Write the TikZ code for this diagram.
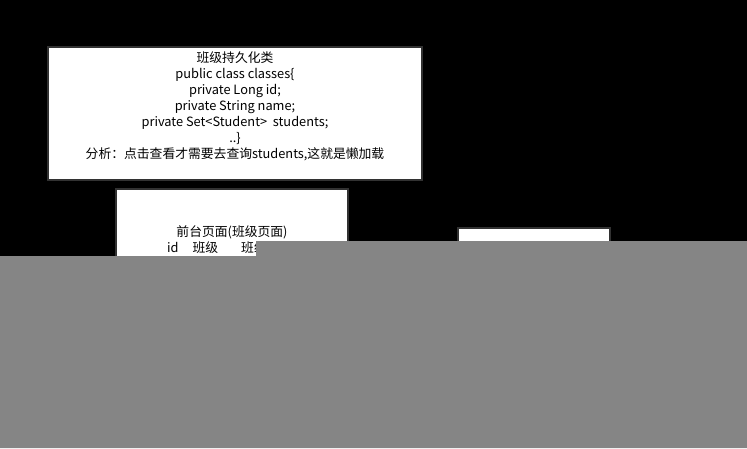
\documentclass[tikz,border=0pt]{standalone}
\usepackage{fontspec}
\setmainfont{Noto Sans CJK SC}
\usetikzlibrary{positioning}
\definecolor{boxline}{RGB}{50,50,50}
\definecolor{cover}{RGB}{133,133,133}
\tikzset{
  panel/.style={draw=boxline, line width=1.5pt, fill=white, inner sep=0pt},
  txt/.style={font=\fontsize{12.8}{16}\selectfont, align=center, inner sep=0pt}
}
\begin{document}
\begin{tikzpicture}[x=1pt,y=-1pt]
		\fill[black] (0,0) rectangle (747,448);
		\useasboundingbox (0,0) rectangle (747,448);
		
		\node[panel, minimum width=374pt, minimum height=133pt] (classbox) at (235,113.5) {};
		\node[txt] (classtext) at (235,106) {班级持久化类\\public class classes\{\\private Long id;\\private String name;\\private Set<Student>\ \ students;\\..\}\\分析：点击查看才需要去查询students,这就是懒加载};
		
		\node[panel, minimum width=232pt, minimum height=160pt] (pagebox) at (232,269) {};
		\node[txt] (pagetitle) at (232,232) {前台页面(班级页面)};
		\node[txt, anchor=west] (pagerow) at (167,248) {id\hspace{14pt}班级\hspace{23pt}班级人数};
		
		\node[panel, minimum width=152pt, minimum height=100pt] (studentbox) at (534,278) {};
		
		% cover
		\fill[cover] (256,241) -- (747,241) -- (747,448) -- (0,448) -- (0,256) -- (256,256) -- cycle;
	\end{tikzpicture}
\end{document}
